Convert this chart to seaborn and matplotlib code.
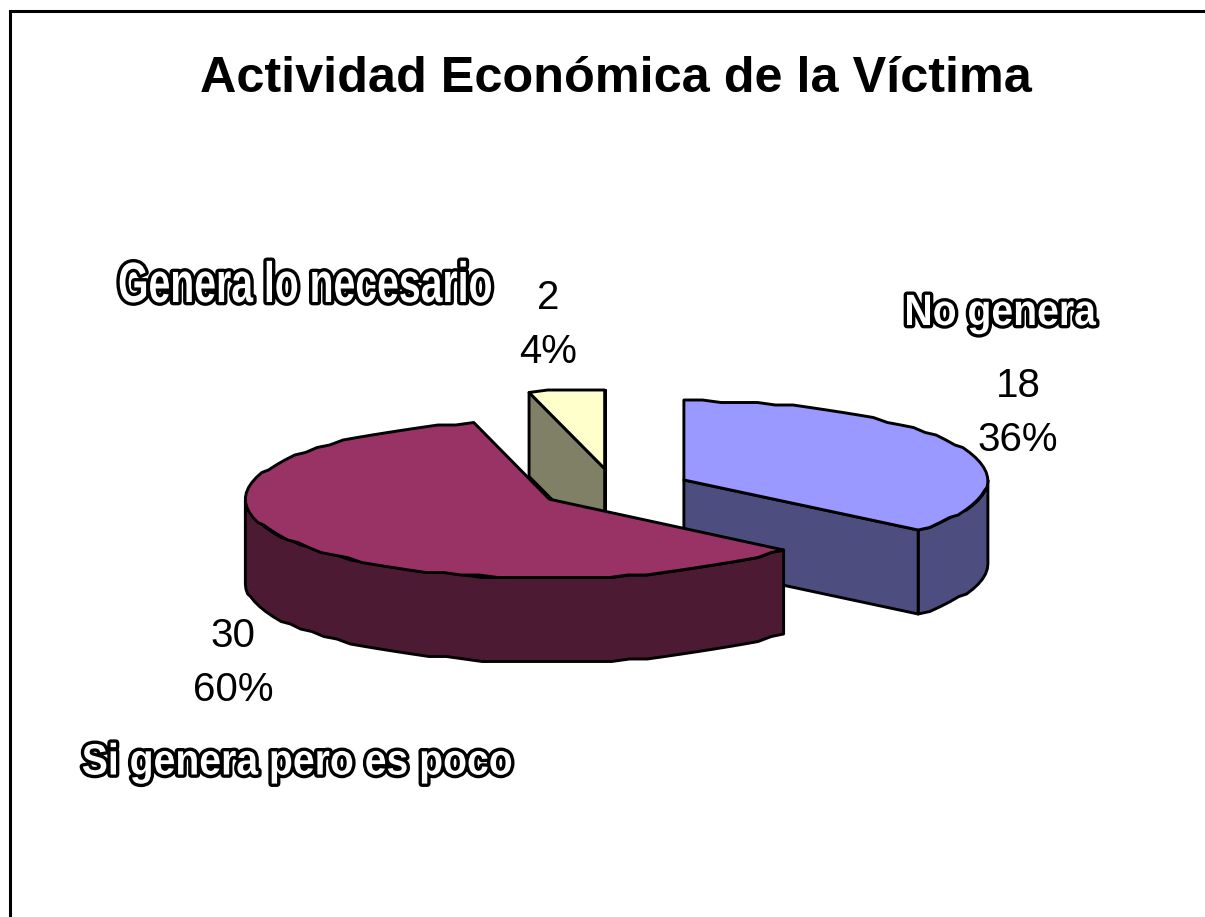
import numpy as np
import matplotlib
matplotlib.use("Agg")
import matplotlib.pyplot as plt
import matplotlib.patheffects as pe
from matplotlib.transforms import Affine2D
import seaborn as sns

# Data
categories = ["No genera", "Si genera pero es poco", "Genera lo necesario"]
values = [18, 30, 2]
top_colors = ["#9999FF", "#993366", "#FFFFCC"]
title = "Actividad Económica de la Víctima"

sns.set_theme(style="white")
plt.rcParams['font.family'] = ['Liberation Sans', 'DejaVu Sans']

fig = plt.figure(figsize=(12.05, 9.17), dpi=100, facecolor='white')
ax = fig.add_axes([0, 0, 1, 1])
ax.set_xlim(0, 1205)
ax.set_ylim(917, 0)
ax.axis('off')

# Pie geometry in pixels: squashed ellipse + extrusion depth
cx, cy = 614.3, 488.5
a, b = 304, 79
depth = 84
explode = 0.253
lw = 2.1
palette = sns.color_palette(top_colors)
side_colors = [tuple(c * 0.5 for c in col) for col in palette]

# Frame around the chart (runs off the right and bottom edge)
ax.plot([10, 10, 1210], [925, 11, 11], color='black', lw=2.2, solid_joinstyle='miter')

# Slice angles, clockwise from the top
total = sum(values)
fracs = [v / total for v in values]
edges = 90 - 360 * np.concatenate([[0], np.cumsum(fracs)])


def rim(x0, y0, t1, t2, step=3.5, snap=2.5):
    # coarse steps and snapping give the slightly stepped outline of the original
    n = max(int(abs(t2 - t1) / step), 1) + 1
    t = np.radians(np.linspace(t1, t2, n))
    x = x0 + a * np.cos(t)
    y = y0 - b * np.sin(t)
    return x, np.round(y / snap) * snap


def face(xs, ys, color, z):
    ax.fill(xs, ys, facecolor=color, edgecolor='black', lw=lw, joinstyle='round', zorder=z)


# draw back to front: small slice, light blue slice, then the big one
for i, z in [(2, 2), (0, 3), (1, 4)]:
    t1, t2 = edges[i], edges[i + 1]
    mid = np.radians((t1 + t2) / 2)
    x0 = cx + explode * a * np.cos(mid)
    y0 = cy - explode * b * np.sin(mid)
    rx, ry = rim(x0, y0, t1, t2)

    if i == 0:
        # front cut wall, then outer wall on the right
        wx, wy = rim(x0, y0, t2, 0)
        face(np.r_[wx, wx[::-1]], np.r_[wy, wy[::-1] + depth], side_colors[i], z)
        face([x0, rx[-1], rx[-1], x0], [y0, ry[-1], ry[-1] + depth, y0 + depth], side_colors[i], z)
    elif i == 1:
        # only the front of the rim shows
        wx, wy = rim(x0, y0, -180, t1)
        face(np.r_[wx, wx[::-1]], np.r_[wy, wy[::-1] + depth], side_colors[i], z)
    else:
        # inner cut wall seen through the gap
        face([x0, rx[0], rx[0], x0], [y0, ry[0], ry[0] + depth, y0 + depth], side_colors[i], z)
        face([x0, rx[-1], rx[-1], x0], [y0, ry[-1], ry[-1] + depth, y0 + depth], side_colors[i], z)

    face(np.r_[x0, rx], np.r_[y0, ry], palette[i], z)

# Title
ax.text(616, 79, title, ha='center', va='center', fontsize=36.3, fontweight='bold', color='black')

# Value + percent labels
label_pos = [(1018, 386), (233, 636), (548, 298)]
for v, f, (x, y) in zip(values, fracs, label_pos):
    ax.text(x, y, str(v), ha='center', va='center', fontsize=29, color='black')
    ax.text(x, y + 54, f"{f:.0%}", ha='center', va='center', fontsize=29, color='black')


class TallOutline(pe.AbstractPathEffect):
    # stretches the letters upwards from the baseline, black outline + white fill
    def __init__(self, stretch, width):
        super().__init__()
        self.stretch = stretch
        self.width = width

    def draw_path(self, renderer, gc, tpath, affine, rgbFace=None):
        tall = Affine2D().scale(1, self.stretch) + affine
        gc0 = renderer.new_gc()
        gc0.copy_properties(gc)
        gc0.set_foreground('black')
        gc0.set_linewidth(self.width)
        renderer.draw_path(gc0, tpath, tall, rgbFace)
        gc0.restore()
        renderer.draw_path(gc, tpath, tall, rgbFace)


# Category names: white letters with a black outline, stretched like the original
cat_pos = [(1000, 325), (297, 774.5), (305, 302)]
cat_stretch = [1.12, 1.12, 1.45]
for name, (x, y), s in zip(categories, cat_pos, cat_stretch):
    ax.text(x, y, name, ha='center', va='baseline', fontsize=28.2, fontweight='bold',
            color='white', path_effects=[TallOutline(s, 4.8)])

fig.savefig("out.png", dpi=100, facecolor=fig.get_facecolor())
